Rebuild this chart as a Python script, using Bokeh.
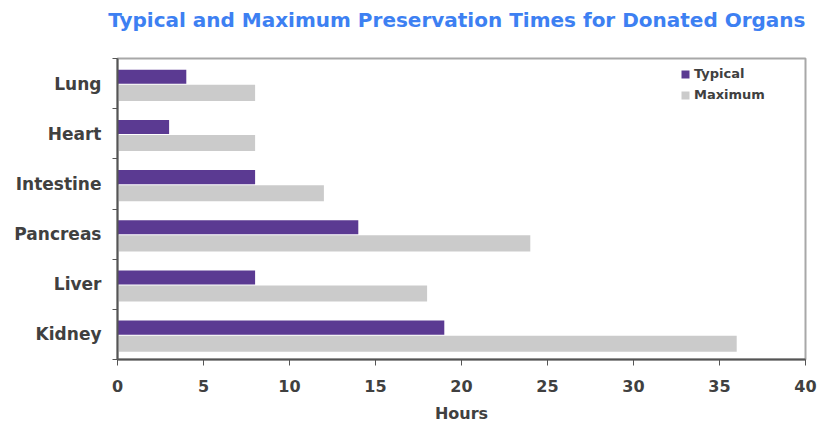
from bokeh.plotting import figure
from bokeh.models import ColumnDataSource, FixedTicker, Legend, LegendItem, Range1d, Title
from bokeh.transform import dodge
from bokeh.embed import file_html
from bokeh.resources import INLINE

# Data (top to bottom as shown)
organs = ["Lung", "Heart", "Intestine", "Pancreas", "Liver", "Kidney"]
typical_hours = [4, 3, 8, 14, 8, 19]
maximum_hours = [8, 8, 12, 24, 18, 36]
x_ticks = [0, 5, 10, 15, 20, 25, 30, 35, 40]
title_text = "Typical and Maximum Preservation Times for Donated Organs"

n = len(organs)
ypos = [n - 1 - i + 0.5 for i in range(n)]
src = ColumnDataSource(dict(y=ypos, organ=organs, typical=typical_hours, maximum=maximum_hours))

FONT = "DejaVu Sans"
TXT = "#404040"

p = figure(width=820, height=425, output_backend="svg", toolbar_location=None,
           x_range=Range1d(0, 40), y_range=Range1d(0, n),
           min_border_left=117, min_border_right=15, min_border_top=58, min_border_bottom=64)

p.title.text = title_text
p.title.text_font = FONT
p.title.text_font_size = "20px"
p.title.text_font_style = "bold"
p.title.text_color = "#3d80f2"
p.title.align = "right"
p.title.standoff = 8

# blank spacer between title and frame
p.add_layout(Title(text=" ", text_font_size="10px", standoff=10), "above")

r_typ = p.hbar(y=dodge("y", 0.135, range=p.y_range), left=0, right="typical", height=0.28,
               source=src, fill_color="#5b3a92", line_color=None)
r_max = p.hbar(y=dodge("y", -0.185, range=p.y_range), left=0, right="maximum", height=0.32,
               source=src, fill_color="#cbcbcb", line_color=None)

p.xgrid.visible = False
p.ygrid.visible = False
p.outline_line_color = "#a8a8a8"
p.outline_line_width = 2

# X axis
xa = p.xaxis[0]
xa.ticker = FixedTicker(ticks=x_ticks, minor_ticks=[])
xa.axis_line_color = "#555555"
xa.axis_line_width = 2
xa.major_tick_line_color = "#555555"
xa.major_tick_out = 6
xa.major_tick_in = 0
xa.minor_tick_line_color = None
xa.major_label_text_font = FONT
xa.major_label_text_font_size = "16px"
xa.major_label_text_font_style = "bold"
xa.major_label_text_color = TXT
xa.major_label_standoff = 14
xa.axis_label = "Hours"
xa.axis_label_text_font = FONT
xa.axis_label_text_font_size = "16px"
xa.axis_label_text_font_style = "bold"
xa.axis_label_text_color = TXT
xa.axis_label_standoff = 9

# Y axis
ya = p.yaxis[0]
ya.ticker = FixedTicker(ticks=ypos, minor_ticks=list(range(n + 1)))
ya.major_label_overrides = {y: o for y, o in zip(ypos, organs)}
ya.axis_line_color = "#555555"
ya.axis_line_width = 2
ya.major_tick_line_color = None
ya.major_tick_out = 0
ya.major_tick_in = 0
ya.minor_tick_line_color = "#555555"
ya.minor_tick_out = 5
ya.minor_tick_in = 0
ya.major_label_text_font = FONT
ya.major_label_text_font_size = "17px"
ya.major_label_text_font_style = "bold"
ya.major_label_text_color = TXT
ya.major_label_standoff = 11

legend = Legend(items=[LegendItem(label="Typical", renderers=[r_typ]),
                       LegendItem(label="Maximum", renderers=[r_max])],
                location=(563, 254))
legend.glyph_width = 10
legend.glyph_height = 10
legend.label_standoff = 4
legend.label_height = 21
legend.spacing = 0
legend.padding = 0
legend.margin = 0
legend.border_line_color = None
legend.background_fill_alpha = 0
legend.label_text_font = FONT
legend.label_text_font_size = "13px"
legend.label_text_font_style = "bold"
legend.label_text_color = TXT
p.add_layout(legend)

open("out.html", "w").write(file_html(p, INLINE))
